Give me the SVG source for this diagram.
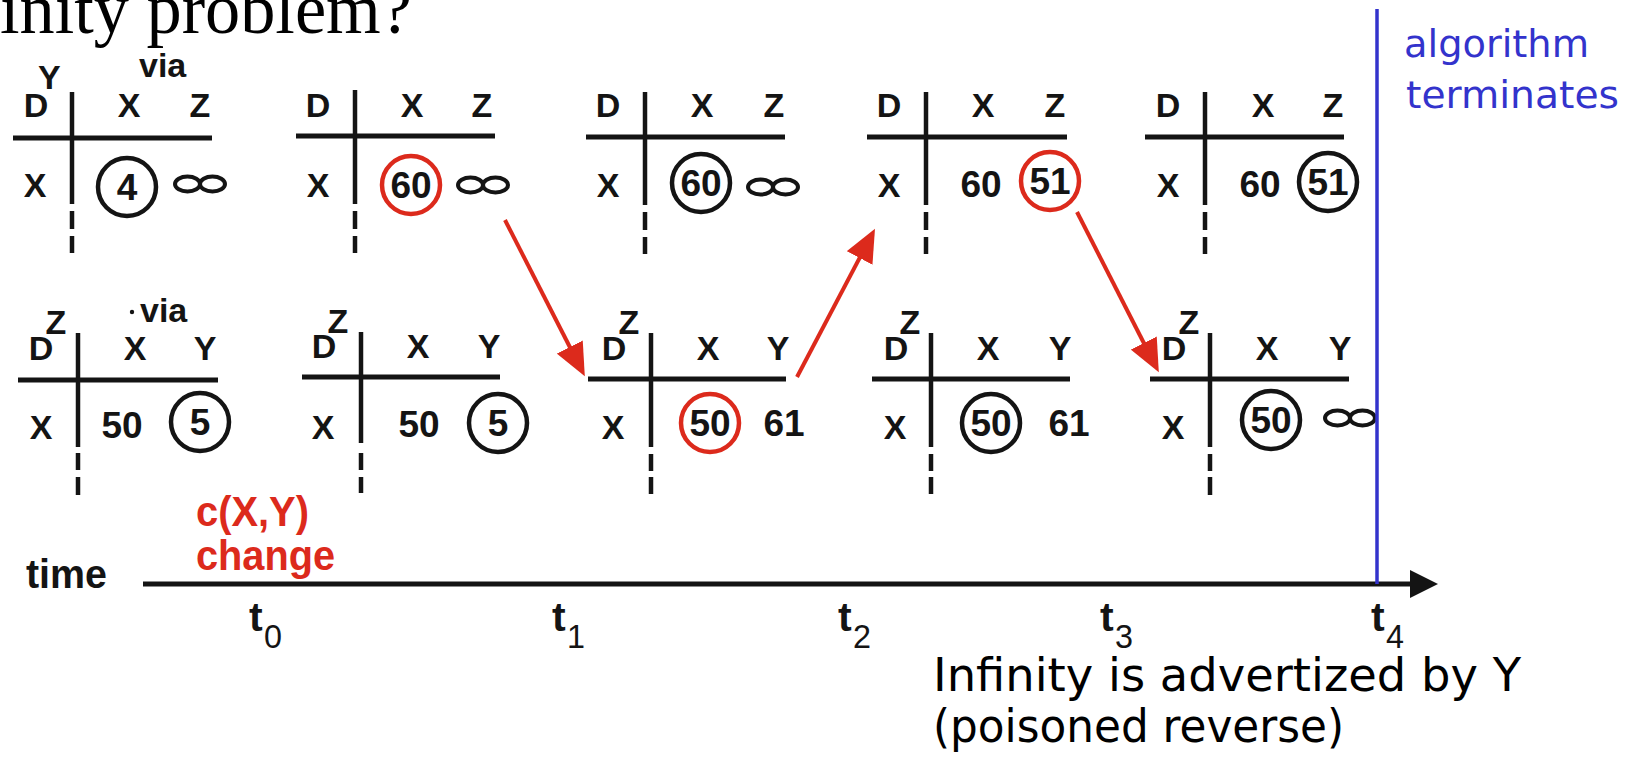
<svg xmlns="http://www.w3.org/2000/svg" xmlns:xlink="http://www.w3.org/1999/xlink" width="1632" height="758" viewBox="0 0 1632 758">
<style>
.t{font-family:"Liberation Sans",Arial,sans-serif;font-weight:bold;font-size:34px;fill:#141414}
.m{text-anchor:middle}
.n{font-family:"Liberation Sans",Arial,sans-serif;font-weight:bold;font-size:37px;fill:#141414;text-anchor:middle}
.ln{stroke:#141414;stroke-width:4.5;fill:none}
.hl{stroke:#141414;stroke-width:5;fill:none}
.c{fill:none;stroke:#141414;stroke-width:4.5}
.cr{fill:none;stroke:#dc2a1c;stroke-width:4.5}
.ar{stroke:#dc2a1c;stroke-width:4;fill:none}
.red{font-family:"Liberation Sans",Arial,sans-serif;font-weight:bold;font-size:42px;fill:#dc2a1c}
.tl{font-family:"Liberation Sans",Arial,sans-serif;font-weight:bold;font-size:41px;fill:#141414}
.sub{font-family:"Liberation Sans",Arial,sans-serif;font-size:34px;fill:#141414}
.blue{font-family:"DejaVu Sans",sans-serif;font-size:37px;fill:#3333cc}
.note{font-family:"DejaVu Sans",sans-serif;font-size:46px;fill:#000}
</style>
<defs>
<g id="inf"><ellipse cx="-12.5" cy="0" rx="12.5" ry="7.5" fill="none" stroke="#141414" stroke-width="4"/><ellipse cx="12.5" cy="0" rx="12.5" ry="7.5" fill="none" stroke="#141414" stroke-width="4"/></g>
<marker id="ah" markerWidth="33" markerHeight="29" refX="18" refY="14.5" orient="auto" markerUnits="userSpaceOnUse"><path d="M0,0 L33,14.5 L0,29 z" fill="#dc2a1c"/></marker>
</defs>
<rect width="1632" height="758" fill="#fff"/>

<text x="0" y="33" font-family="Liberation Serif,serif" font-size="72" textLength="412" lengthAdjust="spacingAndGlyphs" fill="#000">inity problem?</text>

<!-- top row -->
<g id="t1">
<line class="ln" x1="72" y1="92" x2="72" y2="204"/><path class="ln" d="M72 211V229M72 236V253"/>
<line class="hl" x1="13" y1="138" x2="212" y2="138"/>
<text class="t" x="38" y="89">Y</text><text class="t" x="139" y="77">via</text>
<text class="t m" x="36" y="117">D</text><text class="t m" x="129" y="117">X</text><text class="t m" x="200" y="117">Z</text>
<text class="t m" x="35" y="197">X</text>
<circle class="c" cx="127" cy="187" r="29"/><text class="n" x="127" y="200">4</text>
<use xlink:href="#inf" x="200" y="184"/>
</g>
<g id="t2">
<line class="ln" x1="355" y1="90" x2="355" y2="204"/><path class="ln" d="M355 211V229M355 236V253"/>
<line class="hl" x1="296" y1="136" x2="495" y2="136"/>
<text class="t m" x="318" y="117">D</text><text class="t m" x="412" y="117">X</text><text class="t m" x="482" y="117">Z</text>
<text class="t m" x="318" y="197">X</text>
<circle class="cr" cx="411" cy="185" r="29"/><text class="n" x="411" y="198">60</text>
<use xlink:href="#inf" x="483" y="185"/>
</g>
<g id="t3">
<line class="ln" x1="645" y1="92" x2="645" y2="205"/><path class="ln" d="M645 212V230M645 237V254"/>
<line class="hl" x1="586" y1="137" x2="785" y2="137"/>
<text class="t m" x="608" y="117">D</text><text class="t m" x="702" y="117">X</text><text class="t m" x="774" y="117">Z</text>
<text class="t m" x="608" y="197">X</text>
<circle class="c" cx="701" cy="183" r="29"/><text class="n" x="701" y="196">60</text>
<use xlink:href="#inf" x="773" y="187"/>
</g>
<g id="t4">
<line class="ln" x1="926" y1="92" x2="926" y2="205"/><path class="ln" d="M926 212V230M926 237V254"/>
<line class="hl" x1="867" y1="137" x2="1067" y2="137"/>
<text class="t m" x="889" y="117">D</text><text class="t m" x="983" y="117">X</text><text class="t m" x="1055" y="117">Z</text>
<text class="t m" x="889" y="197">X</text>
<text class="n" x="981" y="197">60</text>
<circle class="cr" cx="1050" cy="181" r="29"/><text class="n" x="1050" y="194">51</text>
</g>
<g id="t5">
<line class="ln" x1="1205" y1="92" x2="1205" y2="205"/><path class="ln" d="M1205 212V230M1205 237V254"/>
<line class="hl" x1="1145" y1="137" x2="1344" y2="137"/>
<text class="t m" x="1168" y="117">D</text><text class="t m" x="1263" y="117">X</text><text class="t m" x="1333" y="117">Z</text>
<text class="t m" x="1168" y="197">X</text>
<text class="n" x="1260" y="197">60</text>
<circle class="c" cx="1328" cy="182" r="29"/><text class="n" x="1328" y="195">51</text>
</g>

<!-- bottom row -->
<g id="b1">
<line class="ln" x1="78" y1="333" x2="78" y2="447"/><path class="ln" d="M78 453V470M78 477V495"/>
<line class="hl" x1="18" y1="380" x2="218" y2="380"/>
<text class="t m" x="56" y="334">Z</text>
<circle cx="132" cy="312" r="2.2" fill="#141414"/><text class="t" x="140" y="322">via</text>
<text class="t m" x="41" y="360">D</text><text class="t m" x="135" y="360">X</text><text class="t m" x="205" y="360">Y</text>
<text class="t m" x="41" y="439">X</text>
<text class="n" x="122" y="438">50</text>
<circle class="c" cx="200" cy="422" r="29"/><text class="n" x="200" y="435">5</text>
</g>
<g id="b2">
<line class="ln" x1="361" y1="332" x2="361" y2="443"/><path class="ln" d="M361 453V470M361 477V493"/>
<line class="hl" x1="302" y1="377" x2="500" y2="377"/>
<text class="t m" x="338" y="333">Z</text>
<text class="t m" x="324" y="358">D</text><text class="t m" x="418" y="358">X</text><text class="t m" x="489" y="358">Y</text>
<text class="t m" x="323" y="439">X</text>
<text class="n" x="419" y="437">50</text>
<circle class="c" cx="498" cy="423" r="29"/><text class="n" x="498" y="436">5</text>
</g>
<g id="b3">
<line class="ln" x1="651" y1="333" x2="651" y2="447"/><path class="ln" d="M651 454V471M651 477V494"/>
<line class="hl" x1="588" y1="379" x2="786" y2="379"/>
<text class="t m" x="629" y="334">Z</text>
<text class="t m" x="614" y="360">D</text><text class="t m" x="708" y="360">X</text><text class="t m" x="778" y="360">Y</text>
<text class="t m" x="613" y="439">X</text>
<circle class="cr" cx="710" cy="423" r="29"/><text class="n" x="710" y="436">50</text>
<text class="n" x="784" y="436">61</text>
</g>
<g id="b4">
<line class="ln" x1="931" y1="333" x2="931" y2="447"/><path class="ln" d="M931 454V471M931 477V494"/>
<line class="hl" x1="872" y1="379" x2="1070" y2="379"/>
<text class="t m" x="910" y="334">Z</text>
<text class="t m" x="896" y="360">D</text><text class="t m" x="988" y="360">X</text><text class="t m" x="1060" y="360">Y</text>
<text class="t m" x="895" y="439">X</text>
<circle class="c" cx="991" cy="423" r="29"/><text class="n" x="991" y="436">50</text>
<text class="n" x="1069" y="436">61</text>
</g>
<g id="b5">
<line class="ln" x1="1210" y1="333" x2="1210" y2="447"/><path class="ln" d="M1210 454V471M1210 477V495"/>
<line class="hl" x1="1150" y1="379" x2="1349" y2="379"/>
<text class="t m" x="1189" y="334">Z</text>
<text class="t m" x="1174" y="360">D</text><text class="t m" x="1267" y="360">X</text><text class="t m" x="1340" y="360">Y</text>
<text class="t m" x="1173" y="439">X</text>
<circle class="c" cx="1271" cy="420" r="29"/><text class="n" x="1271" y="433">50</text>
<use xlink:href="#inf" x="1350" y="418"/>
</g>

<!-- connectors -->
<g id="connectors">
<line class="ar" x1="505" y1="220" x2="578" y2="363" marker-end="url(#ah)"/>
<line class="ar" x1="797" y1="377" x2="868" y2="242" marker-end="url(#ah)"/>
<line class="ar" x1="1077" y1="212" x2="1152" y2="359" marker-end="url(#ah)"/>
</g>

<!-- timeline -->
<g id="timeline">
<line x1="143" y1="584" x2="1412" y2="584" stroke="#141414" stroke-width="5"/>
<polygon points="1410,570 1438,584 1410,598" fill="#141414"/>
<text class="tl" x="26" y="588" font-size="38" textLength="81" lengthAdjust="spacingAndGlyphs">time</text>
<text class="red" x="196" y="526" textLength="113" lengthAdjust="spacingAndGlyphs">c(X,Y)</text>
<text class="red" x="196" y="570" textLength="139" lengthAdjust="spacingAndGlyphs">change</text>
<text class="tl" x="249" y="631">t</text><text class="sub" x="264" y="648" textLength="18" lengthAdjust="spacingAndGlyphs">0</text>
<text class="tl" x="552" y="631">t</text><text class="sub" x="567" y="648" textLength="18" lengthAdjust="spacingAndGlyphs">1</text>
<text class="tl" x="838" y="631">t</text><text class="sub" x="853" y="648" textLength="18" lengthAdjust="spacingAndGlyphs">2</text>
<text class="tl" x="1100" y="631">t</text><text class="sub" x="1115" y="648" textLength="18" lengthAdjust="spacingAndGlyphs">3</text>
<text class="tl" x="1371" y="631">t</text><text class="sub" x="1386" y="648" textLength="18" lengthAdjust="spacingAndGlyphs">4</text>
</g>

<g id="terminate">
<line x1="1377" y1="9" x2="1377" y2="584" stroke="#3333cc" stroke-width="3.5"/>
<text class="blue" x="1404" y="57" textLength="185" lengthAdjust="spacingAndGlyphs">algorithm</text>
<text class="blue" x="1406" y="108" textLength="213" lengthAdjust="spacingAndGlyphs">terminates</text>
</g>

<g id="note">
<text class="note" x="933" y="691" textLength="588" lengthAdjust="spacingAndGlyphs">Infinity is advertized by Y</text>
<text class="note" x="933" y="742" textLength="411" lengthAdjust="spacingAndGlyphs">(poisoned reverse)</text>
</g>
</svg>
